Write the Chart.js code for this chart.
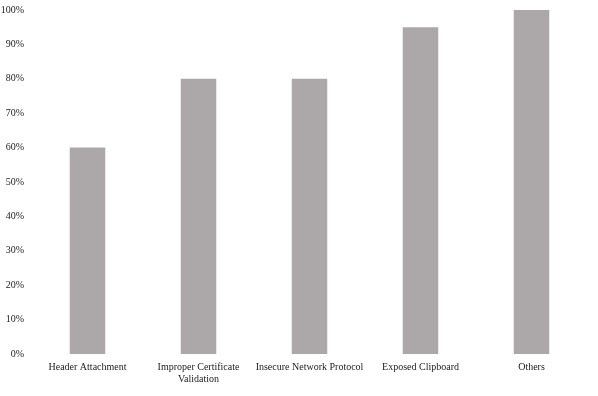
<!DOCTYPE html>
<html>
<head>
<meta charset="utf-8">
<script src="https://cdn.jsdelivr.net/npm/chart.js@4/dist/chart.umd.min.js"></script>
<style>
  html, body { margin: 0; padding: 0; background: #fff; }
  #wrap { width: 598px; height: 396px; position: relative; }
</style>
</head>
<body>
<div id="wrap"><canvas id="chart"></canvas></div>
<script>
const categories = [
    'Header Attachment',
    ['Improper Certificate', 'Validation'],
    'Insecure Network Protocol',
    'Exposed Clipboard',
    'Others'
];
const values = [60, 80, 80, 95, 100];
const yTicks = [0, 10, 20, 30, 40, 50, 60, 70, 80, 90, 100];

document.addEventListener('DOMContentLoaded', () => {
    const ctx = document.getElementById('chart').getContext('2d');
    new Chart(ctx, {
        type: 'bar',
        data: {
            labels: categories,
            datasets: [{
                data: values,
                backgroundColor: '#aca8a9',
                barPercentage: 0.32,
                categoryPercentage: 1
            }]
        },
        options: {
            responsive: true,
            maintainAspectRatio: false,
            animation: false,
            layout: {padding: {top: 0, right: 11, left: 0, bottom: 0}},
            plugins: {legend: {display: false}, tooltip: {enabled: false}},
            scales: {
                x: {
                    grid: {display: false, drawTicks: false},
                    border: {display: false},
                    ticks: {
                        color: '#222',
                        font: {family: 'Liberation Serif', size: 10},
                        maxRotation: 0,
                        autoSkip: false,
                        padding: 7
                    },
                    afterFit: s => { s.height = 42; }
                },
                y: {
                    min: 0,
                    max: 100,
                    afterBuildTicks: s => { s.ticks = yTicks.map(v => ({value: v})); },
                    grid: {display: false, drawTicks: false},
                    border: {display: false},
                    ticks: {
                        color: '#222',
                        font: {family: 'Liberation Serif', size: 10},
                        padding: 8,
                        callback: v => v + '%'
                    },
                    afterFit: s => { s.width = 32; s.paddingTop = 10; }
                }
            }
        }
    });
});
</script>
</body>
</html>
